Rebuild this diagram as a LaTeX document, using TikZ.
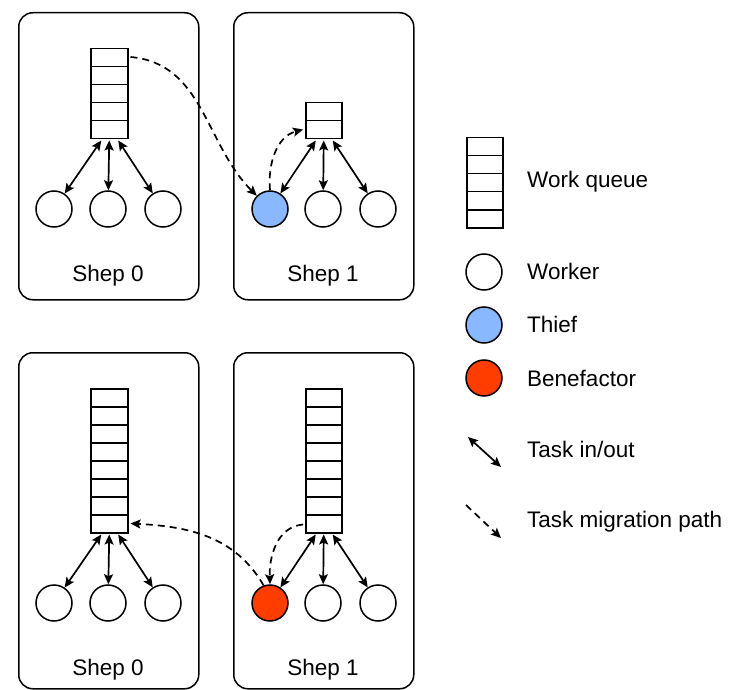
\documentclass[tikz,border=0pt]{standalone}
\usepackage{fontspec}
\setmainfont{Liberation Sans}
\usetikzlibrary{arrows.meta}
\definecolor{thiefblue}{HTML}{8AB8FF}
\definecolor{benered}{HTML}{FF3D00}
\begin{document}
\begin{tikzpicture}[x=1pt,y=1pt,
  font=\fontsize{22.5}{26}\selectfont,
  shepbox/.style={draw, line width=1.5pt, rounded corners=14pt, minimum width=180pt, inner sep=0pt, anchor=north west},
  queue/.style={draw, line width=1.5pt, minimum width=37pt, inner sep=0pt, anchor=north west,
    path picture={\foreach \k in {1,...,9}{\draw[line width=1.5pt] ([yshift=-\k*18pt]path picture bounding box.north west) -- ([yshift=-\k*18pt]path picture bounding box.north east);}}},
  worker/.style={circle, draw, line width=1.5pt, minimum size=36pt, inner sep=0pt, fill=white},
  thief/.style={worker, fill=thiefblue},
  bene/.style={worker, fill=benered},
  io/.style={line width=1.7pt, {Stealth[length=10pt,width=9pt,inset=2pt]}-{Stealth[length=10pt,width=9pt,inset=2pt]}},
  mig/.style={line width=1.7pt, dash pattern=on 7pt off 5pt, -{Stealth[length=10pt,width=9pt,inset=2pt]}},
  lbl/.style={anchor=base, inner sep=0pt},
  leg/.style={anchor=base west, inner sep=0pt}
]
\useasboundingbox (0,0) rectangle (734,-690);

% ---------- top panels ----------
\node[shepbox, minimum height=287pt] (A0) at (18,-12) {};
\node[shepbox, minimum height=287pt] (A1) at (233,-12) {};
\node[queue, minimum height=90pt] (qa0) at (90,-48) {};
\node[queue, minimum height=36pt, minimum width=36pt] (qa1) at (305,-102) {};
\node[worker] (wa01) at (54,-209) {};
\node[worker] (wa02) at (108,-209) {};
\node[worker] (wa03) at (163,-209) {};
\node[thief]  (th)   at (270,-209) {};
\node[worker] (wa12) at (323,-209) {};
\node[worker] (wa13) at (378,-209) {};
\node[lbl] (la0) at (108,-281) {Shep 0};
\node[lbl] (la1) at (323,-281) {Shep 1};

\draw[io] ([xshift=-8pt,yshift=-1pt]qa0.south) -- (wa01);
\draw[io] ([yshift=-1pt]qa0.south) -- (wa02);
\draw[io] ([xshift=9pt,yshift=-1pt]qa0.south) -- (wa03);
\draw[io] ([xshift=-8pt,yshift=-1pt]qa1.south) -- (th);
\draw[io] ([yshift=-1pt]qa1.south) -- (wa12);
\draw[io] ([xshift=9pt,yshift=-1pt]qa1.south) -- (wa13);

\draw[mig] ([xshift=2pt,yshift=-9pt]qa0.north east) to[out=-5,in=135] (th);
\draw[mig] (th.north) to[out=95,in=195] ([xshift=-2pt,yshift=10pt]qa1.south west);

% ---------- bottom panels ----------
\node[shepbox, minimum height=336pt] (B0) at (18,-352) {};
\node[shepbox, minimum height=336pt] (B1) at (233,-352) {};
\node[queue, minimum height=144pt] (qb0) at (90,-388) {};
\node[queue, minimum height=144pt, minimum width=36pt] (qb1) at (305,-388) {};
\node[worker] (wb01) at (54,-603) {};
\node[worker] (wb02) at (108,-603) {};
\node[worker] (wb03) at (163,-603) {};
\node[bene]   (bf)   at (270,-603) {};
\node[worker] (wb12) at (323,-603) {};
\node[worker] (wb13) at (378,-603) {};
\node[lbl] (lb0) at (108,-675) {Shep 0};
\node[lbl] (lb1) at (323,-675) {Shep 1};

\draw[io] ([xshift=-8pt,yshift=-1pt]qb0.south) -- (wb01);
\draw[io] ([yshift=-1pt]qb0.south) -- (wb02);
\draw[io] ([xshift=9pt,yshift=-1pt]qb0.south) -- (wb03);
\draw[io] ([xshift=-8pt,yshift=-1pt]qb1.south) -- (bf);
\draw[io] ([yshift=-1pt]qb1.south) -- (wb12);
\draw[io] ([xshift=9pt,yshift=-1pt]qb1.south) -- (wb13);

\draw[mig] (bf.110) to[out=120,in=-3] ([xshift=2pt,yshift=10pt]qb0.south east);
\draw[mig] ([xshift=-2pt,yshift=9pt]qb1.south west) to[out=185,in=92] ([xshift=0pt]bf.north);

% ---------- legend ----------
\node[queue, minimum height=90pt, minimum width=36pt] (lq) at (466,-137) {};
\node[worker] (lw) at (484,-272) {};
\node[thief]  (lt) at (484,-325) {};
\node[bene]   (lbn) at (484,-378) {};
\node[leg] (tq) at (527,-188) {Work queue};
\node[leg] (tw) at (527,-279) {Worker};
\node[leg] (tt) at (527,-332) {Thief};
\node[leg] (tb) at (527,-386) {Benefactor};
\node[leg] (ti) at (527,-457) {Task in/out};
\node[leg] (tm) at (527,-527) {Task migration path};
\coordinate (ia) at (468,-437);
\coordinate (ib) at (501,-467);
\draw[io] (ia) -- (ib);
\coordinate (ma) at (466,-505);
\coordinate (mb) at (501,-538);
\draw[mig] (ma) -- (mb);
\end{tikzpicture}
\end{document}
